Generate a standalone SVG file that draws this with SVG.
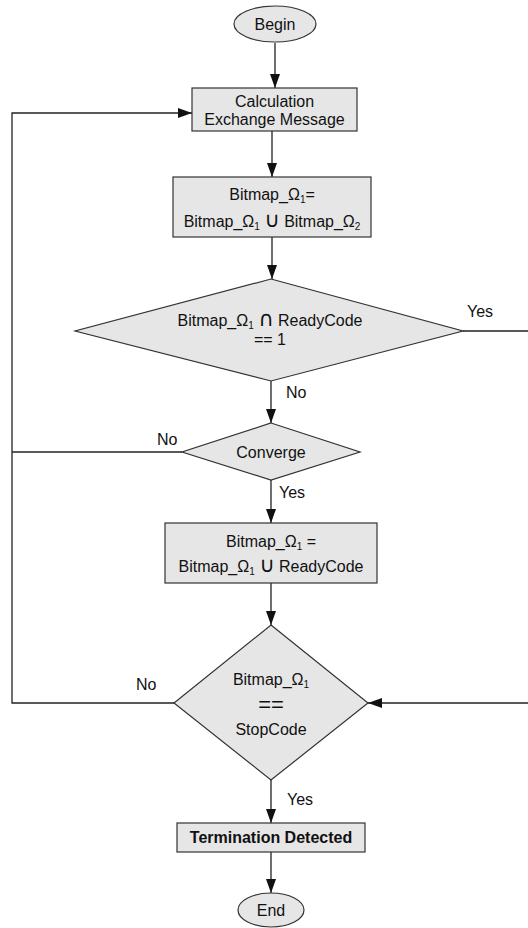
<svg xmlns="http://www.w3.org/2000/svg" width="528" height="928" viewBox="0 0 528 928">
<style>
.n{fill:#e6e6e6;stroke:#333;stroke-width:1.2}
.t{font-family:"Liberation Sans",Arial,sans-serif;font-size:16px;fill:#111;text-anchor:middle}
.l{font-family:"Liberation Sans",Arial,sans-serif;font-size:16px;fill:#111}
.c{fill:none;stroke:#222;stroke-width:1.3}
.s{font-size:10px}
.u{font-family:"DejaVu Sans",sans-serif;font-size:21px;font-weight:normal}
</style>
<defs>
<marker id="a" viewBox="0 0 14 10" refX="14" refY="5" markerWidth="14" markerHeight="10" markerUnits="userSpaceOnUse" orient="auto">
<path d="M0,0 L14,5 L0,10 Z" fill="#111"/>
</marker>
</defs>
<rect width="528" height="928" fill="#fff"/>
<g id="connectors">
<path class="c" d="M275,43 V88" marker-end="url(#a)"/>
<path class="c" d="M272,131 V177" marker-end="url(#a)"/>
<path class="c" d="M272,237 V279" marker-end="url(#a)"/>
<path class="c" d="M271,381 V423" marker-end="url(#a)"/>
<path class="c" d="M271,480 V523" marker-end="url(#a)"/>
<path class="c" d="M271,583 V625" marker-end="url(#a)"/>
<path class="c" d="M271,780 V823" marker-end="url(#a)"/>
<path class="c" d="M271,852 V893" marker-end="url(#a)"/>
<path class="c" d="M463,331 H530 V703 H368" marker-end="url(#a)"/>
<path class="c" d="M174,703 H12 V113 H192" marker-end="url(#a)"/>
<path class="c" d="M182,452 H12"/>
<text class="l" x="467" y="317">Yes</text>
<text class="l" x="286" y="398">No</text>
<text class="l" x="157" y="445">No</text>
<text class="l" x="279" y="498">Yes</text>
<text class="l" x="136" y="690">No</text>
<text class="l" x="287" y="805">Yes</text>
</g>
<g id="begin">
<ellipse class="n" cx="275" cy="24" rx="41" ry="18"/>
<text class="t" x="275" y="30">Begin</text>
</g>
<g id="calc">
<rect class="n" x="192" y="88" width="165" height="43"/>
<text class="t" x="274.5" y="107">Calculation</text>
<text class="t" x="274.5" y="125">Exchange Message</text>
</g>
<g id="union1">
<rect class="n" x="173" y="177" width="198" height="60"/>
<text class="t" x="272" y="200">Bitmap_Ω<tspan class="s" dy="3">1</tspan><tspan dy="-3">=</tspan></text>
<text class="t" x="272" y="227">Bitmap_Ω<tspan class="s" dy="3">1</tspan><tspan dy="-3"> </tspan><tspan class="u">∪</tspan> Bitmap_Ω<tspan class="s" dy="3">2</tspan></text>
</g>
<g id="ready">
<polygon class="n" points="271,279 463,331 271,381 75,331"/>
<text class="t" x="270" y="326">Bitmap_Ω<tspan class="s" dy="3">1</tspan><tspan dy="-3"> </tspan><tspan class="u">∩</tspan> ReadyCode</text>
<text class="t" x="270" y="345">== 1</text>
</g>
<g id="converge">
<polygon class="n" points="271,423 360,452 271,480 182,452"/>
<text class="t" x="271" y="458">Converge</text>
</g>
<g id="union2">
<rect class="n" x="165" y="523" width="212" height="60"/>
<text class="t" x="271" y="547">Bitmap_Ω<tspan class="s" dy="3">1</tspan><tspan dy="-3"> =</tspan></text>
<text class="t" x="271" y="572">Bitmap_Ω<tspan class="s" dy="3">1</tspan><tspan dy="-3"> </tspan><tspan class="u">∪</tspan> ReadyCode</text>
</g>
<g id="stop">
<polygon class="n" points="271,625 368,703 271,780 174,703"/>
<text class="t" x="271" y="685">Bitmap_Ω<tspan class="s" dy="3">1</tspan></text>
<text class="t" x="271" y="712" style="font-size:22px">==</text>
<text class="t" x="271" y="735">StopCode</text>
</g>
<g id="termination">
<rect class="n" x="177" y="823" width="188" height="29"/>
<text class="t" x="271" y="843" style="font-weight:bold">Termination Detected</text>
</g>
<g id="end">
<ellipse class="n" cx="271" cy="910" rx="33" ry="17"/>
<text class="t" x="271" y="916">End</text>
</g>
</svg>
